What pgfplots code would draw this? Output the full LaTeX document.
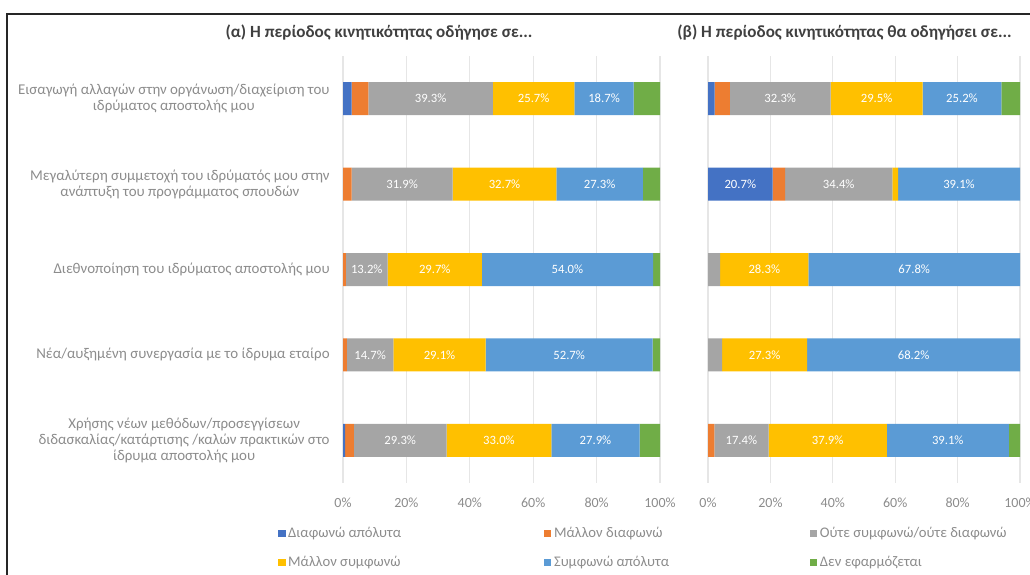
\documentclass[border=0pt]{standalone}
\usepackage{fontspec}
\setmainfont{Carlito}
\usepackage{pgfplots}
\usepackage{pgfplotstable}
\pgfplotsset{compat=1.18}
\definecolor{c1}{HTML}{4472C4}
\definecolor{c2}{HTML}{ED7D31}
\definecolor{c3}{HTML}{A5A5A5}
\definecolor{c4}{HTML}{FFC000}
\definecolor{c5}{HTML}{5B9BD5}
\definecolor{c6}{HTML}{70AD47}
\definecolor{lab}{HTML}{8C8C8C}
\definecolor{tit}{HTML}{404040}
\definecolor{gridc}{HTML}{E6E6E6}
\definecolor{framec}{HTML}{262626}

\pgfplotstableread{
y sd d n a sa na
0 2.7 5.3 39.3 25.7 18.7 8.3
1 0.0 2.7 31.9 32.7 27.3 5.4
2 0.0 0.9 13.2 29.7 54.0 2.2
3 0.0 1.2 14.7 29.1 52.7 2.3
4 0.7 2.7 29.3 33.0 27.9 6.4
}\tabA

\pgfplotstableread{
y sd d n a sa na
0 2.1 4.9 32.3 29.5 25.2 6.0
1 20.7 4.0 34.4 1.8 39.1 0.0
2 0.0 0.0 3.9 28.3 67.8 0.0
3 0.0 0.0 4.5 27.3 68.2 0.0
4 0.0 2.0 17.4 37.9 39.1 3.6
}\tabB

\pgfplotsset{
  geom/.style={
    scale only axis, height=320.25pt,
    xmin=0, xmax=100, ymin=-0.5, ymax=4.5, y dir=reverse,
    enlarge x limits=false, enlarge y limits=false,
    anchor=south west,
  },
  panel/.style={
    geom, xbar stacked, bar width=24.75pt,
    xtick={0,20,40,60,80,100}, xticklabels={0\%,20\%,40\%,60\%,80\%,100\%},
    ytick={0,1,2,3,4},
    xmajorgrids, major grid style={draw=gridc, line width=0.8pt},
    axis line style={draw=none}, major tick length=0pt,
    xticklabel style={font=\fontsize{10.5}{12}\selectfont, text=lab, yshift=-7.5pt},
  },
  lblaxis/.style={
    geom, hide axis,
    nodes near coords={\pgfplotspointmeta\%},
    every node near coord/.append style={font=\fontsize{9.5}{10}\selectfont, text=white, anchor=center},
  },
  lbl/.style={only marks, mark=none, point meta=explicit symbolic},
}

\begin{document}
\begin{tikzpicture}
\useasboundingbox (0pt,0pt) rectangle (772.5pt,430.5pt);
\draw[line width=2pt, color=framec] (5.25pt,-2pt) -- (5.25pt,420pt) -- (775pt,420pt);

\begin{axis}[panel, at={(257.25pt,68.25pt)}, width=237.75pt,
  yticklabels={{Εισαγωγή αλλαγών στην οργάνωση/διαχείριση του\\ιδρύματος αποστολής μου},
               {Μεγαλύτερη συμμετοχή του ιδρύματός μου στην\\ανάπτυξη του προγράμματος σπουδών},
               {Διεθνοποίηση του ιδρύματος αποστολής μου},
               {Νέα/αυξημένη συνεργασία με το ίδρυμα εταίρο},
               {Χρήσης νέων μεθόδων/προσεγγίσεων\\διδασκαλίας/κατάρτισης /καλών πρακτικών στο\\ίδρυμα αποστολής μου}},
  yticklabel style={font=\fontsize{11.2}{12.2}\selectfont, text=lab, align=center, xshift=-6.5pt},
  legend columns=3,
  legend style={draw=none, fill=none, at={(axis description cs:-0.2175,-0.090)}, anchor=north west,
    font=\fontsize{11}{12}\selectfont, text=lab, row sep=8.8pt,
    /tikz/every even column/.append style={column sep=2pt}},
  legend image code/.code={\fill[#1] (0pt,-2.7pt) rectangle (5.4pt,2.7pt);},
]
\addplot[fill=c1, draw=none] table[x=sd,y=y] {\tabA};
\addlegendentry{\makebox[188pt][l]{Διαφωνώ απόλυτα}}
\addplot[fill=c2, draw=none] table[x=d,y=y] {\tabA};
\addlegendentry{\makebox[188pt][l]{Μάλλον διαφωνώ}}
\addplot[fill=c3, draw=none] table[x=n,y=y] {\tabA};
\addlegendentry{\makebox[150pt][l]{Ούτε συμφωνώ/ούτε διαφωνώ}}
\addplot[fill=c4, draw=none] table[x=a,y=y] {\tabA};
\addlegendentry{\makebox[188pt][l]{Μάλλον συμφωνώ}}
\addplot[fill=c5, draw=none] table[x=sa,y=y] {\tabA};
\addlegendentry{\makebox[188pt][l]{Συμφωνώ απόλυτα}}
\addplot[fill=c6, draw=none] table[x=na,y=y] {\tabA};
\addlegendentry{\makebox[150pt][l]{Δεν εφαρμόζεται}}
\end{axis}

\begin{axis}[lblaxis, at={(257.25pt,68.25pt)}, width=237.75pt]
\addplot[lbl, x filter/.expression={\thisrow{n}<10 ? nan : x}]
  table[y=y, meta=n, x expr={\thisrow{sd}+\thisrow{d}+0.5*\thisrow{n}}] {\tabA};
\addplot[lbl, x filter/.expression={\thisrow{a}<10 ? nan : x}]
  table[y=y, meta=a, x expr={\thisrow{sd}+\thisrow{d}+\thisrow{n}+0.5*\thisrow{a}}] {\tabA};
\addplot[lbl, x filter/.expression={\thisrow{sa}<10 ? nan : x}]
  table[y=y, meta=sa, x expr={\thisrow{sd}+\thisrow{d}+\thisrow{n}+\thisrow{a}+0.5*\thisrow{sa}}] {\tabA};
\end{axis}

\begin{axis}[panel, at={(531pt,68.25pt)}, width=234pt, yticklabels={}]
\addplot[fill=c1, draw=none] table[x=sd,y=y] {\tabB};
\addplot[fill=c2, draw=none] table[x=d,y=y] {\tabB};
\addplot[fill=c3, draw=none] table[x=n,y=y] {\tabB};
\addplot[fill=c4, draw=none] table[x=a,y=y] {\tabB};
\addplot[fill=c5, draw=none] table[x=sa,y=y] {\tabB};
\addplot[fill=c6, draw=none] table[x=na,y=y] {\tabB};
\end{axis}

\begin{axis}[lblaxis, at={(531pt,68.25pt)}, width=234pt]
\addplot[lbl, x filter/.expression={\thisrow{sd}<10 ? nan : x}]
  table[y=y, meta=sd, x expr={0.5*\thisrow{sd}}] {\tabB};
\addplot[lbl, x filter/.expression={\thisrow{n}<10 ? nan : x}]
  table[y=y, meta=n, x expr={\thisrow{sd}+\thisrow{d}+0.5*\thisrow{n}}] {\tabB};
\addplot[lbl, x filter/.expression={\thisrow{a}<10 ? nan : x}]
  table[y=y, meta=a, x expr={\thisrow{sd}+\thisrow{d}+\thisrow{n}+0.5*\thisrow{a}}] {\tabB};
\addplot[lbl, x filter/.expression={\thisrow{sa}<10 ? nan : x}]
  table[y=y, meta=sa, x expr={\thisrow{sd}+\thisrow{d}+\thisrow{n}+\thisrow{a}+0.5*\thisrow{sa}}] {\tabB};
\end{axis}

\node[font=\bfseries\fontsize{12.8}{14}\selectfont, text=tit] at (284.25pt,405.75pt) {(α) Η περίοδος κινητικότητας οδήγησε σε...};
\node[font=\bfseries\fontsize{12.8}{14}\selectfont, text=tit] at (633.4pt,405.75pt) {(β) Η περίοδος κινητικότητας θα οδηγήσει σε...};
\end{tikzpicture}
\end{document}
